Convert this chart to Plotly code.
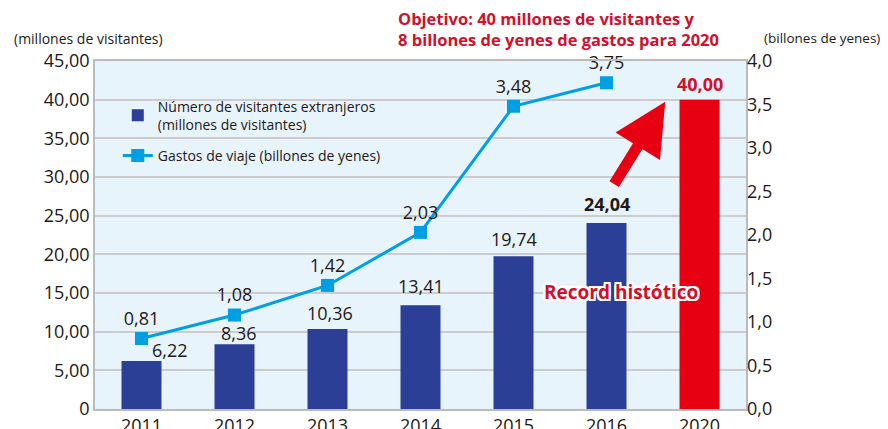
import plotly.graph_objects as go

years = ["2011", "2012", "2013", "2014", "2015", "2016", "2020"]
visitors = [6.22, 8.36, 10.36, 13.41, 19.74, 24.04, 40.00]
visitor_labels = ["6,22", "8,36", "10,36", "13,41", "19,74", "24,04", "40,00"]
spend_years = ["2011", "2012", "2013", "2014", "2015", "2016"]
spending = [0.81, 1.08, 1.42, 2.03, 3.48, 3.75]
spend_labels = ["0,81", "1,08", "1,42", "2,03", "3,48", "3,75"]
left_ticks = [0, 5, 10, 15, 20, 25, 30, 35, 40, 45]
left_ticktext = ["0", "5,00", "10,00", "15,00", "20,00", "25,00", "30,00", "35,00", "40,00", "45,00"]
right_ticks = [0, 0.5, 1, 1.5, 2, 2.5, 3, 3.5, 4]
right_ticktext = ["0,0", "0,5", "1,0", "1,5", "2,0", "2,5", "3,0", "3,5", "4,0"]

NAVY = "#2B3F96"
RED = "#E60012"
DARKRED = "#D0102C"
BLUE = "#009FE3"
TXT = "#231815"
FONT = "Open Sans"

bar_colors = [NAVY] * 6 + [RED]

fig = go.Figure()
fig.add_trace(go.Bar(
    x=years, y=visitors, marker=dict(color=bar_colors, line=dict(width=0)),
    name="Número de visitantes extranjeros<br>(millones de visitantes)",
    yaxis="y", legendgroup="a",
))
fig.add_trace(go.Scatter(
    x=spend_years, y=spending, yaxis="y2",
    mode="lines+markers+text", text=spend_labels, textposition="top center",
    textfont=dict(size=18, color=TXT, family=FONT), cliponaxis=False,
    line=dict(color=BLUE, width=3),
    marker=dict(symbol="square", size=13, color=BLUE),
    name="Gastos de viaje (billones de yenes)", legendgroup="b",
))

# bar value labels (x given as category index)
shifts = [(28, 11), (4, 11), (2, 16), (0, 19), (0, 17), (0, 19), (0, 16)]
for i, (v, lab) in enumerate(zip(visitors, visitor_labels)):
    dx, dy = shifts[i]
    bold = i >= 5
    color = DARKRED if i == 6 else TXT
    fig.add_annotation(
        x=i, y=v, xref="x", yref="y", text=lab, showarrow=False,
        xshift=dx, yshift=dy, xanchor="center", yanchor="middle",
        font=dict(size=18, color=color, family=FONT, weight="bold" if bold else "normal"),
    )

# arrow
fig.add_annotation(
    x=0.876, y=0.883, xref="paper", yref="paper", ax=-52, ay=84,
    axref="pixel", ayref="pixel", text="", showarrow=True,
    arrowhead=2, arrowsize=0.95, arrowwidth=11, arrowcolor=RED, standoff=0,
)

# Record label
fig.add_annotation(
    x=(621 - 95) / 651, y=(409 - 292) / 348, xref="paper", yref="paper",
    xanchor="center", yanchor="middle",
    text="Record histótico", showarrow=False,
    font=dict(size=19, color=DARKRED, family=FONT, weight="bold",
              shadow="-2px -2px 0 #fff, 2px -2px 0 #fff, -2px 2px 0 #fff, 2px 2px 0 #fff, 0 2px 0 #fff, 0 -2px 0 #fff, 2px 0 0 #fff, -2px 0 0 #fff"),
)

# titles
fig.add_annotation(
    x=(396 - 95) / 651, y=(409 - 29) / 348, xref="paper", yref="paper",
    xanchor="left", yanchor="middle", align="left",
    text="Objetivo: 40 millones de visitantes y<br>8 billones de yenes de gastos para 2020",
    showarrow=False,
    font=dict(size=16.5, color=DARKRED, family=FONT, weight="bold"),
)
fig.add_annotation(
    x=(12 - 95) / 651, y=(409 - 38) / 348, xref="paper", yref="paper",
    xanchor="left", yanchor="middle", text="(millones de visitantes)", showarrow=False,
    font=dict(size=14, color=TXT, family=FONT),
)
fig.add_annotation(
    x=(762 - 95) / 651, y=(409 - 38) / 348, xref="paper", yref="paper",
    xanchor="left", yanchor="middle", text="(billones de yenes)", showarrow=False,
    font=dict(size=13.5, color=TXT, family=FONT),
)

fig.update_layout(
    width=880, height=421,
    margin=dict(l=87, r=142, t=53, b=20),
    paper_bgcolor="white", plot_bgcolor="#E8F4FC",
    separators=",.",
    bargap=0.57,
    showlegend=True,
    legend=dict(x=0.035, y=0.915, xanchor="left", yanchor="top",
                bgcolor="rgba(0,0,0,0)", font=dict(size=14, color=TXT, family=FONT),
                tracegroupgap=10, itemwidth=30),
    font=dict(family=FONT, color=TXT),
    xaxis=dict(type="category", range=[-0.5, 6.5], tickfont=dict(size=18, color=TXT), showline=True,
               linecolor="#BBBBBB", linewidth=1.5, mirror=True, ticks="", showgrid=False,
               automargin=False),
    yaxis=dict(range=[0, 45], tickvals=left_ticks, ticktext=left_ticktext,
               tickfont=dict(size=18, color=TXT), showgrid=True, gridcolor="#CCCCCC",
               gridwidth=1.5, showline=True, linecolor="#BBBBBB", linewidth=1.5, mirror=True,
               ticks="", zeroline=False, automargin=False),
    yaxis2=dict(range=[0, 4], tickvals=right_ticks, ticktext=right_ticktext,
                overlaying="y", side="right", showgrid=False, zeroline=False,
                tickfont=dict(size=18, color=TXT), ticks="", automargin=False),
)

fig.write_html("out.html")
